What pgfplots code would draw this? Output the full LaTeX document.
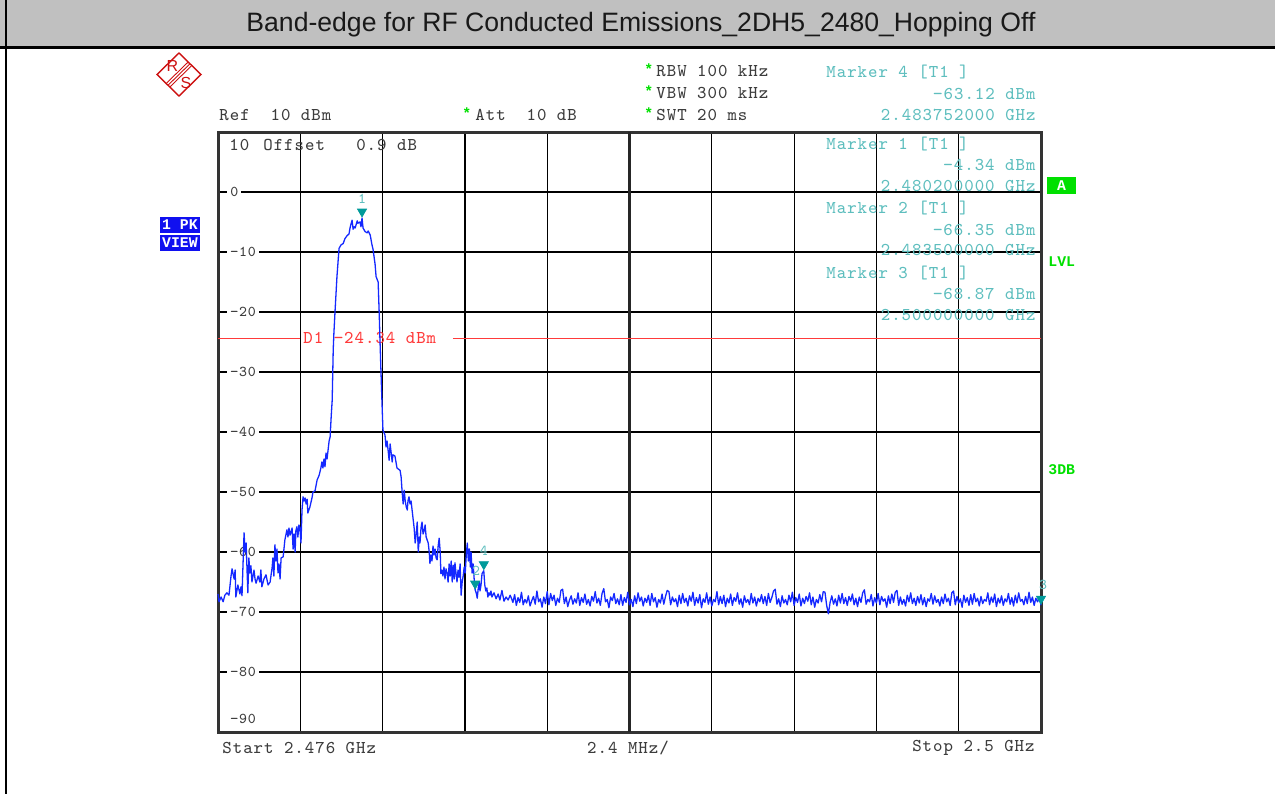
\documentclass[border=0pt]{standalone}
\usepackage{pgfplots}
\pgfplotsset{compat=1.18}
\usepackage{pgfplotstable}
\usepackage{fontspec}
\setmainfont{Liberation Sans}
\newfontfamily\mono[LetterSpace=5.5]{Latin Modern Mono}
\newfontfamily\monob{Liberation Mono}
\definecolor{hdr}{HTML}{C0C0C0}
\definecolor{txt}{HTML}{3C3C3C}
\definecolor{mk}{HTML}{5EBEBE}
\definecolor{mktri}{HTML}{009A9A}
\definecolor{trace}{HTML}{1428FF}
\definecolor{dline}{HTML}{FF3A3A}
\definecolor{grn}{HTML}{00E000}
\definecolor{pkblue}{HTML}{1010F0}
\definecolor{rsred}{HTML}{CC1111}
\newcommand{\mf}{\mono\fontsize{9}{10}\selectfont}
\newcommand{\tf}{\mono\fontsize{7.5}{9}\selectfont}
\newcommand{\bfm}{\monob\fontsize{7.4}{8}\selectfont\bfseries}
\tikzset{lab/.style={anchor=west, xshift=4.5pt, fill=white, inner sep=1.5pt, font=\tf, text=txt}}

\pgfplotstableread{
f d
2476.00 -67.0
2476.03 -68.3
2476.09 -67.5
2476.15 -68.3
2476.20 -67.2
2476.26 -66.8
2476.32 -67.2
2476.38 -64.0
2476.41 -62.8
2476.47 -64.5
2476.50 -63.0
2476.52 -67.5
2476.58 -65.5
2476.64 -67.0
2476.67 -65.8
2476.70 -67.3
2476.73 -62.0
2476.76 -56.8
2476.79 -60.0
2476.82 -58.5
2476.85 -63.5
2476.87 -66.8
2476.90 -61.0
2476.93 -63.5
2476.96 -62.3
2476.99 -65.0
2477.05 -63.0
2477.08 -64.5
2477.11 -65.2
2477.17 -64.0
2477.22 -65.0
2477.25 -63.0
2477.28 -65.8
2477.34 -64.5
2477.40 -63.8
2477.46 -65.5
2477.52 -65.0
2477.58 -62.5
2477.60 -61.0
2477.63 -64.0
2477.66 -58.8
2477.69 -61.5
2477.72 -59.5
2477.75 -63.5
2477.78 -62.0
2477.81 -64.5
2477.84 -61.0
2477.90 -60.8
2477.95 -58.0
2478.01 -56.3
2478.04 -57.5
2478.07 -56.0
2478.10 -57.2
2478.16 -56.0
2478.19 -59.5
2478.22 -57.0
2478.25 -60.0
2478.27 -56.5
2478.30 -55.8
2478.33 -57.5
2478.36 -55.5
2478.39 -56.0
2478.42 -58.5
2478.45 -53.0
2478.48 -50.8
2478.51 -51.5
2478.54 -51.0
2478.57 -52.0
2478.60 -51.2
2478.62 -53.5
2478.68 -52.5
2478.74 -51.0
2478.77 -50.0
2478.83 -49.8
2478.89 -48.0
2478.95 -47.2
2479.00 -46.0
2479.03 -45.0
2479.06 -46.0
2479.09 -44.5
2479.12 -45.8
2479.15 -43.5
2479.18 -44.5
2479.21 -43.0
2479.24 -41.5
2479.27 -40.8
2479.30 -37.5
2479.33 -34.7
2479.36 -26.3
2479.38 -23.5
2479.41 -20.2
2479.47 -14.0
2479.53 -9.4
2479.59 -8.8
2479.65 -8.6
2479.70 -7.8
2479.76 -7.3
2479.82 -7.0
2479.85 -6.0
2479.88 -5.3
2479.91 -4.7
2479.94 -6.2
2479.97 -5.8
2480.00 -6.0
2480.06 -4.8
2480.08 -5.2
2480.14 -5.0
2480.17 -5.8
2480.20 -4.34
2480.23 -6.0
2480.26 -6.3
2480.29 -6.6
2480.35 -6.8
2480.38 -6.5
2480.44 -7.2
2480.49 -8.8
2480.52 -9.5
2480.58 -12.0
2480.61 -14.1
2480.67 -15.0
2480.70 -20.0
2480.72 -24.0
2480.75 -29.5
2480.78 -34.7
2480.81 -39.7
2480.87 -40.5
2480.90 -42.5
2480.93 -41.5
2480.96 -43.0
2480.99 -44.7
2481.02 -42.0
2481.05 -43.5
2481.08 -45.0
2481.10 -43.8
2481.16 -44.0
2481.22 -46.0
2481.31 -46.4
2481.34 -47.5
2481.37 -50.0
2481.40 -52.0
2481.43 -49.7
2481.46 -51.5
2481.49 -52.5
2481.52 -53.0
2481.54 -51.5
2481.57 -50.8
2481.60 -52.0
2481.63 -51.5
2481.66 -53.0
2481.69 -54.5
2481.72 -56.0
2481.75 -58.5
2481.78 -57.0
2481.81 -55.0
2481.84 -60.0
2481.87 -57.5
2481.89 -58.5
2481.92 -56.0
2481.95 -55.0
2481.98 -57.0
2482.01 -56.5
2482.04 -55.5
2482.07 -57.5
2482.13 -58.5
2482.16 -60.0
2482.18 -61.9
2482.21 -60.5
2482.24 -61.5
2482.27 -59.0
2482.30 -60.5
2482.33 -59.5
2482.36 -61.0
2482.39 -61.3
2482.42 -59.0
2482.45 -57.7
2482.48 -60.0
2482.50 -63.6
2482.53 -63.0
2482.56 -64.0
2482.59 -62.5
2482.62 -64.5
2482.65 -62.8
2482.68 -63.5
2482.71 -65.0
2482.74 -62.0
2482.77 -64.0
2482.80 -61.5
2482.83 -65.0
2482.86 -62.2
2482.89 -64.5
2482.91 -61.8
2482.94 -63.5
2482.97 -65.0
2483.00 -63.0
2483.03 -64.2
2483.06 -62.0
2483.09 -67.2
2483.12 -65.0
2483.15 -64.0
2483.18 -62.5
2483.21 -63.5
2483.24 -60.5
2483.27 -58.5
2483.30 -61.5
2483.33 -59.5
2483.36 -62.5
2483.38 -60.0
2483.41 -63.5
2483.44 -62.0
2483.47 -64.5
2483.50 -66.35
2483.53 -66.8
2483.56 -67.7
2483.59 -66.0
2483.62 -65.0
2483.64 -66.5
2483.67 -65.5
2483.70 -63.6
2483.75 -63.12
2483.78 -65.5
2483.81 -66.5
2483.84 -66.0
2483.87 -67.5
2483.90 -66.8
2483.93 -67.2
2483.96 -66.5
2483.99 -67.5
2484.05 -66.8
2484.11 -67.8
2484.17 -67.0
2484.22 -68.0
2484.28 -66.4
2484.34 -68.2
2484.40 -67.5
2484.46 -68.0
2484.52 -67.2
2484.55 -67.6
2484.60 -68.4
2484.65 -67.1
2484.70 -68.9
2484.75 -67.6
2484.80 -68.4
2484.85 -66.7
2484.90 -68.8
2484.95 -67.9
2485.00 -68.5
2485.05 -67.3
2485.10 -69.0
2485.15 -68.1
2485.20 -67.4
2485.25 -68.7
2485.30 -66.5
2485.35 -68.3
2485.40 -67.8
2485.45 -69.2
2485.50 -67.5
2485.55 -68.6
2485.60 -66.6
2485.65 -68.8
2485.70 -66.9
2485.75 -68.1
2485.80 -67.2
2485.85 -68.9
2485.90 -67.7
2485.95 -68.4
2486.00 -66.4
2486.05 -66.2
2486.10 -68.6
2486.15 -67.5
2486.20 -69.1
2486.25 -68.0
2486.30 -67.3
2486.35 -68.7
2486.40 -67.8
2486.45 -68.5
2486.50 -66.8
2486.55 -68.9
2486.60 -67.6
2486.65 -68.4
2486.70 -67.0
2486.75 -68.7
2486.80 -67.9
2486.85 -69.0
2486.90 -67.4
2486.95 -68.2
2487.00 -66.6
2487.05 -68.5
2487.10 -67.7
2487.15 -68.9
2487.20 -66.9
2487.25 -66.1
2487.30 -68.3
2487.35 -67.9
2487.40 -69.3
2487.45 -67.5
2487.50 -68.1
2487.55 -66.9
2487.60 -68.6
2487.65 -67.8
2487.70 -68.8
2487.75 -67.1
2487.80 -68.9
2487.85 -67.6
2487.90 -68.4
2487.95 -66.7
2488.00 -68.8
2488.05 -67.9
2488.10 -69.1
2488.15 -67.3
2488.20 -68.6
2488.25 -66.8
2488.30 -68.2
2488.35 -67.5
2488.40 -69.0
2488.45 -67.7
2488.50 -68.4
2488.55 -67.2
2488.60 -68.9
2488.65 -66.9
2488.70 -68.3
2488.75 -67.6
2488.80 -69.2
2488.85 -67.9
2488.90 -68.5
2488.95 -67.0
2489.00 -68.7
2489.05 -67.4
2489.10 -66.4
2489.15 -66.6
2489.20 -68.8
2489.25 -67.5
2489.30 -68.3
2489.35 -67.8
2489.40 -69.1
2489.45 -67.2
2489.50 -68.6
2489.55 -66.9
2489.60 -68.4
2489.65 -67.7
2489.70 -69.0
2489.75 -67.3
2489.80 -68.2
2489.85 -66.7
2489.90 -68.9
2489.95 -67.6
2490.00 -68.5
2490.05 -67.1
2490.10 -69.3
2490.15 -67.8
2490.20 -68.4
2490.25 -66.8
2490.30 -68.7
2490.35 -67.5
2490.40 -69.0
2490.45 -67.9
2490.50 -68.3
2490.55 -66.6
2490.60 -68.8
2490.65 -67.4
2490.70 -68.6
2490.75 -67.2
2490.80 -69.1
2490.85 -67.7
2490.90 -68.5
2490.95 -67.0
2491.00 -68.9
2491.05 -67.6
2491.10 -68.2
2491.15 -66.8
2491.20 -68.7
2491.25 -67.8
2491.30 -69.2
2491.35 -67.3
2491.40 -68.4
2491.45 -67.9
2491.50 -68.8
2491.55 -66.9
2491.60 -68.5
2491.65 -67.5
2491.70 -69.0
2491.75 -67.7
2491.80 -68.3
2491.85 -67.1
2491.90 -68.6
2491.95 -67.4
2492.00 -68.9
2492.05 -66.9
2492.10 -68.4
2492.15 -67.6
2492.20 -66.5
2492.25 -66.2
2492.30 -68.7
2492.35 -67.8
2492.40 -69.1
2492.45 -67.3
2492.50 -68.5
2492.55 -67.9
2492.60 -68.8
2492.65 -67.2
2492.70 -68.3
2492.75 -66.7
2492.80 -68.9
2492.85 -67.6
2492.90 -68.4
2492.95 -67.0
2493.00 -69.0
2493.05 -67.7
2493.10 -68.6
2493.15 -67.4
2493.20 -68.2
2493.25 -66.8
2493.30 -68.8
2493.35 -67.5
2493.40 -69.2
2493.45 -67.9
2493.50 -68.5
2493.55 -67.1
2493.60 -68.3
2493.65 -66.6
2493.70 -66.7
2493.75 -68.9
2493.80 -70.3
2493.85 -68.4
2493.90 -67.3
2493.95 -68.7
2494.00 -67.8
2494.05 -69.0
2494.10 -67.2
2494.15 -68.5
2494.20 -66.9
2494.25 -68.6
2494.30 -67.6
2494.35 -68.9
2494.40 -67.4
2494.45 -68.2
2494.50 -67.0
2494.55 -68.8
2494.60 -67.7
2494.65 -69.1
2494.70 -67.5
2494.75 -68.4
2494.80 -66.8
2494.85 -66.3
2494.90 -68.7
2494.95 -67.9
2495.00 -68.3
2495.05 -67.1
2495.10 -69.0
2495.15 -67.6
2495.20 -68.5
2495.25 -66.9
2495.30 -68.8
2495.35 -67.4
2495.40 -68.2
2495.45 -67.8
2495.50 -69.2
2495.55 -67.3
2495.60 -68.6
2495.65 -67.0
2495.70 -68.4
2495.75 -66.7
2495.80 -66.4
2495.85 -68.9
2495.90 -67.5
2495.95 -68.7
2496.00 -67.9
2496.05 -69.0
2496.10 -67.2
2496.15 -68.3
2496.20 -66.8
2496.25 -68.6
2496.30 -67.7
2496.35 -68.9
2496.40 -67.4
2496.45 -68.5
2496.50 -67.1
2496.55 -68.8
2496.60 -67.6
2496.65 -69.1
2496.70 -67.8
2496.75 -68.2
2496.80 -66.9
2496.85 -68.7
2496.90 -67.3
2496.95 -68.4
2497.00 -67.9
2497.05 -69.0
2497.10 -67.5
2497.15 -68.6
2497.20 -67.0
2497.25 -68.3
2497.30 -67.7
2497.35 -68.9
2497.40 -66.8
2497.45 -66.5
2497.50 -68.8
2497.55 -67.4
2497.60 -68.5
2497.65 -67.8
2497.70 -69.2
2497.75 -67.2
2497.80 -68.4
2497.85 -67.6
2497.90 -68.9
2497.95 -67.1
2498.00 -68.7
2498.05 -66.9
2498.10 -68.3
2498.15 -67.7
2498.20 -69.0
2498.25 -67.4
2498.30 -68.6
2498.35 -67.9
2498.40 -68.2
2498.45 -66.8
2498.50 -68.8
2498.55 -67.5
2498.60 -68.4
2498.65 -67.0
2498.70 -69.1
2498.75 -67.7
2498.80 -68.5
2498.85 -67.3
2498.90 -68.9
2498.95 -67.8
2499.00 -68.3
2499.05 -66.9
2499.10 -68.7
2499.15 -67.6
2499.20 -69.0
2499.25 -67.2
2499.30 -68.5
2499.35 -66.8
2499.40 -68.2
2499.45 -67.9
2499.50 -68.8
2499.55 -67.4
2499.60 -68.6
2499.65 -66.7
2499.70 -68.4
2499.75 -67.5
2499.80 -68.9
2499.85 -67.7
2499.90 -68.3
2499.95 -67.6
2500.00 -68.87
}\trace

\pgfplotstableread{
f d
2480.2 -4.34
2483.5 -66.35
2483.752 -63.12
2500.0 -68.87
}\markers

\begin{document}
\begin{tikzpicture}
\begin{scope}[x=0.5pt,y=-0.5pt]
\path[use as bounding box] (0,0) rectangle (1275,794);
\fill[hdr] (0,0) rectangle (1275,47);
\draw[line width=1.25pt] (0,47.5) -- (1275,47.5);
\draw[line width=1pt] (6,0) -- (6,794);
\node[font=\fontsize{13.3}{16}\selectfont, text=black!90] at (641,25) {Band-edge for RF Conducted Emissions\_2DH5\_2480\_Hopping Off};
% R&S logo
\draw[rsred, line width=0.7pt] (157,74.5) -- (179,53) -- (201,74.5) -- (179,96) -- cycle;
\foreach \o in {-1.8,0,1.8} {\draw[rsred, line width=0.45pt] (190+\o,63.75+\o) -- (168+\o,85.25+\o);}
\node[rsred, font=\fontsize{8}{8}\selectfont, inner sep=0] at (172.5,66) {R};
\node[rsred, font=\fontsize{8}{8}\selectfont, inner sep=0] at (186,83) {S};
% header texts
\begin{scope}[every node/.style={inner sep=0, font=\mf, text=txt}]
\node[anchor=west] at (219,115) {Ref~~10 dBm};
\node[anchor=west, text=grn, font=\bfm] at (462,113) {*};
\node[anchor=west] at (475,115) {Att~~10 dB};
\node[anchor=west, text=grn, font=\bfm] at (644,69) {*};
\node[anchor=west] at (656,71) {RBW 100 kHz};
\node[anchor=west, text=grn, font=\bfm] at (644,91) {*};
\node[anchor=west] at (656,93) {VBW 300 kHz};
\node[anchor=west, text=grn, font=\bfm] at (644,113) {*};
\node[anchor=west] at (656,115) {SWT 20 ms};
\node[anchor=west, text=mk] at (826,72) {Marker 4 [T1 ]};
\node[anchor=east, text=mk] at (1036,94) {−63.12 dBm};
\node[anchor=east, text=mk] at (1036,115) {2.483752000 GHz};
\node[anchor=west] at (222,748) {Start 2.476 GHz};
\node at (628,748) {2.4 MHz/};
\node[anchor=east] at (1035,748) {Stop 2.5 GHz};
\end{scope}
% side boxes
\fill[pkblue] (160,217) rectangle (200,233);
\node[text=white, font=\bfm, inner sep=0] at (180,225) {1 PK};
\fill[pkblue] (160,235) rectangle (200,251);
\node[text=white, font=\bfm, inner sep=0] at (180,243) {VIEW};
\fill[grn] (1047,177) rectangle (1076,194);
\node[text=white, font=\bfm, inner sep=0] at (1061.5,185.5) {A};
\node[anchor=west, text=grn, font=\bfm, inner sep=0] at (1048,262) {LVL};
\node[anchor=west, text=grn, font=\bfm, inner sep=0] at (1048,470) {3DB};
\end{scope}

\begin{axis}[
  at={(109pt,-366pt)}, anchor=south west, scale only axis,
  width=411.5pt, height=300pt,
  xmin=2476, xmax=2500, ymin=-90, ymax=10,
  xtick={2478.4,2480.8,2483.2,2485.6,2488,2490.4,2492.8,2495.2,2497.6},
  ytick={-80,-70,-60,-50,-40,-30,-20,-10,0},
  xticklabels={}, yticklabels={},
  major tick length=0pt,
  grid=major,
  major grid style={black, line width=0.6pt},
  axis line style={black!80, line width=1.5pt},
  clip=false,
]
\draw[black!85, line width=1.2pt] (axis cs:2488,-90) -- (axis cs:2488,10);
\node[lab] at (axis cs:2476,0) {0};
\node[lab] at (axis cs:2476,-10) {−10};
\node[lab] at (axis cs:2476,-20) {−20};
\node[lab] at (axis cs:2476,-30) {−30};
\node[lab] at (axis cs:2476,-40) {−40};
\node[lab] at (axis cs:2476,-50) {−50};
\node[lab] at (axis cs:2476,-60) {−60};
\node[lab] at (axis cs:2476,-70) {−70};
\node[lab] at (axis cs:2476,-80) {−80};
\node[lab, fill=none, yshift=6.5pt] at (axis cs:2476,-90) {−90};
\node[anchor=west, xshift=5.5pt, yshift=-6.5pt, inner sep=0, font=\mf, text=txt] at (axis cs:2476,10) {10};
\node[anchor=west, inner sep=0, font=\mf, text=txt] at (axis cs:2477.31,7.8) {Offset~~~0.9 dB};
% marker info inside
\begin{scope}[every node/.style={inner sep=0, font=\mf, text=mk}]
\node[anchor=west] at (axis cs:2493.73,8.0) {Marker 1 [T1 ]};
\node[anchor=east] at (axis cs:2499.85,4.5) {−4.34 dBm};
\node[anchor=east] at (axis cs:2499.85,1.0) {2.480200000 GHz};
\node[anchor=west] at (axis cs:2493.73,-2.67) {Marker 2 [T1 ]};
\node[anchor=east] at (axis cs:2499.85,-6.33) {−66.35 dBm};
\node[anchor=east] at (axis cs:2499.85,-9.67) {2.483500000 GHz};
\node[anchor=west] at (axis cs:2493.73,-13.5) {Marker 3 [T1 ]};
\node[anchor=east] at (axis cs:2499.85,-17.0) {−68.87 dBm};
\node[anchor=east] at (axis cs:2499.85,-20.5) {2.500000000 GHz};
\end{scope}
% display line D1
\addplot[dline, line width=0.5pt] coordinates {(2476,-24.34) (2478.39,-24.34)};
\addplot[dline, line width=0.5pt] coordinates {(2482.85,-24.34) (2500,-24.34)};
\node[anchor=west, inner sep=0, font=\mf, text=dline] at (axis cs:2478.48,-24.34) {D1 −24.34 dBm};
% trace
\addplot[trace, line width=0.65pt, line join=round] table[x=f, y=d] {\trace};
% markers
\addplot[only marks, mark=triangle*, mark size=2.6pt, color=mktri, mark options={yshift=3.2pt, rotate=180}] table[x=f, y=d] {\markers};
\begin{scope}[every node/.style={inner sep=0, font=\tf, text=mk}]
\node[yshift=9.5pt] at (axis cs:2480.2,-4.34) {1};
\node[yshift=9.5pt, xshift=0.5pt] at (axis cs:2483.5,-66.35) {2};
\node[yshift=10pt] at (axis cs:2483.752,-63.12) {4};
\node[yshift=10pt, xshift=1pt] at (axis cs:2500,-68.87) {3};
\end{scope}
\end{axis}
\end{tikzpicture}
\end{document}
